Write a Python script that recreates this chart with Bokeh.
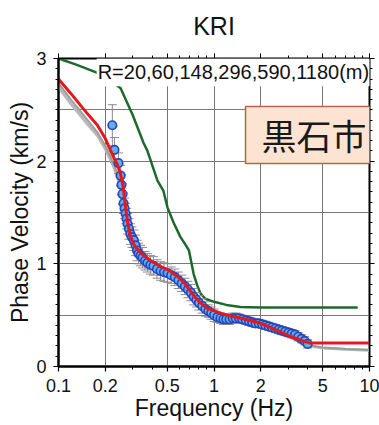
from bokeh.plotting import figure
from bokeh.models import FixedTicker, Label, LinearAxis, LogAxis
from bokeh.embed import file_html
from bokeh.resources import INLINE

# ---------------- data ----------------
title_text = "KRI"
x_tick_values = [0.1, 0.2, 0.5, 1, 2, 5, 10]
x_tick_labels = ["0.1", "0.2", "0.5", "1", "2", "5", "10"]
x_minor_ticks = [0.3, 0.4, 0.6, 0.7, 0.8, 0.9, 3, 4, 6, 7, 8, 9]
y_tick_values = [0, 1, 2, 3]
x_grid_values = [0.2, 0.5, 1, 2, 5]
y_grid_values = [0.5, 1, 1.5, 2, 2.5]
array_label = "R=20,60,148,296,590,1180(m)"
site_label = "黒石市"

# observed dispersion (blue circles) with standard deviation
obs_freq = [0.222, 0.229, 0.243, 0.251, 0.254, 0.258, 0.262, 0.266, 0.27, 0.274,
            0.278, 0.284, 0.29, 0.297, 0.305, 0.313, 0.32, 0.327, 0.337, 0.347,
            0.36, 0.373, 0.39, 0.408, 0.43, 0.453, 0.477, 0.502, 0.53, 0.56,
            0.59, 0.62, 0.65, 0.68, 0.71, 0.74, 0.77, 0.80, 0.84, 0.88,
            0.92, 0.96, 1.0, 1.05, 1.1, 1.15, 1.2, 1.26, 1.32, 1.38,
            1.45, 1.52, 1.6, 1.68, 1.76, 1.85, 1.94, 2.04, 2.14, 2.25,
            2.36, 2.48, 2.6, 2.73, 2.87, 3.01, 3.16, 3.32, 3.48, 3.65,
            3.83, 4.0]
obs_vel = [2.35, 2.11, 1.98, 1.86, 1.77, 1.68, 1.59, 1.54, 1.49, 1.44,
           1.39, 1.34, 1.29, 1.26, 1.23, 1.18, 1.13, 1.10, 1.08, 1.06,
           1.03, 1.01, 0.99, 0.98, 0.95, 0.93, 0.92, 0.91, 0.89, 0.87,
           0.84, 0.81, 0.78, 0.75, 0.72, 0.68, 0.65, 0.62, 0.59, 0.56,
           0.54, 0.52, 0.50, 0.48, 0.47, 0.46, 0.46, 0.46, 0.47, 0.47,
           0.47, 0.46, 0.45, 0.44, 0.43, 0.42, 0.42, 0.41, 0.40, 0.39,
           0.38, 0.37, 0.36, 0.35, 0.34, 0.33, 0.32, 0.31, 0.29, 0.27,
           0.25, 0.22]
obs_err = [0.20, 0.12, 0.10, 0.10, 0.10, 0.10, 0.10, 0.10, 0.10, 0.10,
           0.10, 0.10, 0.10, 0.10, 0.10, 0.10, 0.10, 0.10, 0.10, 0.10,
           0.09, 0.09, 0.09, 0.09, 0.09, 0.09, 0.09, 0.09, 0.08, 0.08,
           0.08, 0.08, 0.08, 0.08, 0.08, 0.08, 0.07, 0.07, 0.07, 0.07,
           0.06, 0.06, 0.06, 0.05, 0.05, 0.05, 0.05, 0.05, 0.05, 0.05,
           0.04, 0.04, 0.04, 0.04, 0.04, 0.04, 0.04, 0.04, 0.04, 0.04,
           0.04, 0.04, 0.04, 0.04, 0.04, 0.04, 0.04, 0.04, 0.04, 0.04,
           0.04, 0.04]

# best-fit model (red)
fit_freq = [0.1, 0.12, 0.15, 0.178, 0.2, 0.226, 0.24, 0.25, 0.26, 0.27,
            0.28, 0.29, 0.31, 0.34, 0.37, 0.40, 0.46, 0.52, 0.58, 0.64,
            0.70, 0.76, 0.82, 0.90, 1.0, 1.1, 1.3, 1.5, 1.75, 2.0,
            2.3, 2.6, 3.0, 3.4, 3.8, 4.1, 5, 7, 10]
fit_vel = [2.80, 2.66, 2.48, 2.35, 2.22, 2.04, 1.96, 1.88, 1.76, 1.55,
           1.38, 1.27, 1.17, 1.10, 1.06, 1.02, 0.97, 0.93, 0.88, 0.82,
           0.74, 0.67, 0.62, 0.57, 0.545, 0.52, 0.49, 0.47, 0.445, 0.42,
           0.38, 0.345, 0.30, 0.27, 0.245, 0.23, 0.23, 0.23, 0.23]

# other models (gray)
gray_freq = [0.1, 0.12, 0.15, 0.178, 0.2, 0.226, 0.25, 0.27, 0.29, 0.32,
             0.37, 0.46, 0.58, 0.70, 0.82, 1.0, 1.3, 1.75, 2.3, 3.0,
             3.5, 4.0, 5, 7, 10]
gray_vel_a = [2.76, 2.60, 2.42, 2.28, 2.15, 1.98, 1.80, 1.50, 1.28, 1.14,
              1.04, 0.95, 0.86, 0.72, 0.60, 0.53, 0.48, 0.43, 0.37, 0.30,
              0.26, 0.21, 0.185, 0.17, 0.16]
gray_vel_b = [2.72, 2.56, 2.38, 2.25, 2.12, 1.95, 1.76, 1.46, 1.25, 1.12,
              1.02, 0.93, 0.84, 0.70, 0.59, 0.52, 0.47, 0.42, 0.36, 0.29,
              0.25, 0.205, 0.18, 0.168, 0.158]

# initial model (green)
init_freq = [0.1, 0.13, 0.178, 0.21, 0.251, 0.3, 0.352, 0.373, 0.433, 0.473,
             0.502, 0.55, 0.609, 0.66, 0.69, 0.74, 0.78, 0.82, 0.88, 1.0,
             1.2, 1.48, 2, 3, 5, 8.4]
init_vel = [3.0, 2.94, 2.86, 2.80, 2.71, 2.45, 2.18, 2.10, 1.81, 1.71,
            1.55, 1.40, 1.26, 1.18, 1.13, 0.90, 0.79, 0.71, 0.66, 0.63,
            0.60, 0.58, 0.575, 0.575, 0.575, 0.575]

FONT = "Liberation Sans"

p = figure(width=379, height=425, x_axis_type="log",
           x_range=(0.1, 10), y_range=(0, 3),
           output_backend="svg", toolbar_location=None,
           min_border_left=58, min_border_right=10,
           min_border_top=58, min_border_bottom=59,
           background_fill_color="white", border_fill_color="white")

p.title.text = title_text
p.title.text_font = FONT
p.title.text_font_size = "25px"
p.title.text_font_style = "normal"
p.title.align = "center"
p.title.vertical_align = "top"
p.title.text_color = "#111111"
p.title.standoff = 23

p.outline_line_color = "black"
p.outline_line_width = 2

# axes
xa = p.xaxis[0]
xa.ticker = FixedTicker(ticks=x_tick_values, minor_ticks=x_minor_ticks)
xa.major_label_overrides = {v: s for v, s in zip(x_tick_values, x_tick_labels)}
xa.axis_label = "Frequency (Hz)"
ya = p.yaxis[0]
ya.ticker = FixedTicker(ticks=y_tick_values,
                        minor_ticks=[i / 10 for i in range(31) if i % 10])
ya.axis_label = "Phase Velocity (km/s)"
for ax in (xa, ya):
    ax.axis_line_color = "black"
    ax.axis_line_width = 2
    ax.major_tick_line_color = "black"
    ax.minor_tick_line_color = "black"
    ax.major_tick_line_width = 1.2
    ax.major_tick_out = 5
    ax.major_tick_in = 0
    ax.minor_tick_out = 3
    ax.minor_tick_in = 0
    ax.major_label_text_font = FONT
    ax.major_label_text_font_size = "18px"
    ax.major_label_text_color = "#111111"
    ax.axis_label_text_font = FONT
    ax.axis_label_text_font_size = "23px"
    ax.axis_label_text_font_style = "normal"
    ax.axis_label_text_color = "#111111"
xa.major_label_standoff = 7
xa.axis_label_standoff = 0
ya.major_label_standoff = 7
ya.axis_label_standoff = 0

# tick-only axes on top and right (labels not drawn)
top = LogAxis(ticker=FixedTicker(ticks=x_tick_values, minor_ticks=x_minor_ticks),
              major_label_text_font_size="1px", major_label_text_color=None,
              major_tick_out=5, major_tick_in=0,
              minor_tick_out=3, minor_tick_in=0, axis_line_color="black",
              major_label_standoff=0)
p.add_layout(top, "above")
right = LinearAxis(ticker=FixedTicker(ticks=y_tick_values,
                                      minor_ticks=[i / 10 for i in range(31) if i % 10]),
                   major_label_text_font_size="1px", major_label_text_color=None,
                   major_tick_out=5, major_tick_in=0,
                   minor_tick_out=3, minor_tick_in=0, axis_line_color="black",
                   major_label_standoff=0)
p.add_layout(right, "right")

# grids
p.xgrid.ticker = FixedTicker(ticks=x_grid_values)
p.ygrid.ticker = FixedTicker(ticks=y_grid_values)
for g in (p.xgrid[0], p.ygrid[0]):
    g.grid_line_color = "#7d7676"
    g.grid_line_width = 1
    g.grid_line_alpha = 1

# gray model curves
p.line(gray_freq, gray_vel_b, line_color="#b8b8b8", line_width=3)
p.line(gray_freq, gray_vel_a, line_color="#9c9c9c", line_width=2)

# green initial model
p.line(init_freq, init_vel, line_color="#1d6b2c", line_width=2.5)

# error bars
lower = [v - e for v, e in zip(obs_vel, obs_err)]
upper = [v + e for v, e in zip(obs_vel, obs_err)]
p.segment(x0=obs_freq, y0=lower, x1=obs_freq, y1=upper,
          line_color="#8c8c8c", line_width=1)
p.scatter(obs_freq, upper, marker="dash", size=9, line_color="#8c8c8c", line_width=1)
p.scatter(obs_freq, lower, marker="dash", size=9, line_color="#8c8c8c", line_width=1)

# observed
p.scatter(obs_freq, obs_vel, marker="circle", size=8.5,
          fill_color="#63aee8", line_color="#2646c0", line_width=1.7)

# best fit
p.line(fit_freq, fit_vel, line_color="#e3191c", line_width=3)

# annotations
p.add_layout(Label(x=0.176, y=2.865, text=array_label,
                   text_font=FONT, text_font_size="20px", text_color="#111111",
                   text_baseline="middle", text_align="left",
                   background_fill_color="white",
                   padding=dict(left=1, right=2, top=3, bottom=3)))
p.add_layout(Label(x=1.595, y=2.255, text=site_label,
                   text_font="Noto Sans CJK JP", text_font_size="35px",
                   text_color="#1a1a1a",
                   text_baseline="middle", text_align="left",
                   background_fill_color="#fde3d2",
                   border_line_color="#b06848", border_line_width=1.5,
                   padding=dict(left=16, right=30, top=3, bottom=3)))

open("out.html", "w").write(file_html(p, INLINE))
